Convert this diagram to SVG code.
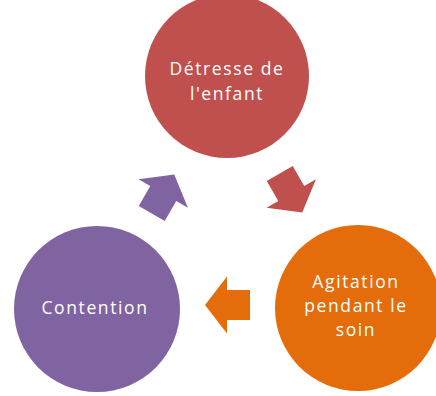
<svg xmlns="http://www.w3.org/2000/svg" width="436" height="396" viewBox="0 0 436 396">
  <defs>
    <style>
      .lbl { font-family: "Open Sans", "Noto Sans", "DejaVu Sans", sans-serif; font-size: 17.5px; fill: #ffffff; text-anchor: middle; letter-spacing: 1.6px; }
    </style>
    <!-- block arrow pointing right, centred on the origin -->
    <path id="blockArrow" d="M -22.5 -15 L 0.5 -15 L 0.5 -28.5 L 22.5 0 L 0.5 28.5 L 0.5 15 L -22.5 15 Z"/>
  </defs>
  <rect width="436" height="396" fill="#ffffff"/>

  <g id="connectors">
    <use href="#blockArrow" fill="#C0504D" transform="translate(291 193) rotate(60)"/>
    <use href="#blockArrow" fill="#E46C0A" transform="translate(227.5 305) rotate(180)"/>
    <use href="#blockArrow" fill="#8064A2" transform="translate(163 194) rotate(-60)"/>
  </g>

  <g id="node-detresse">
    <circle cx="227" cy="76" r="82" fill="#C0504D"/>
    <text class="lbl" x="227" y="75">Détresse de</text>
    <text class="lbl" x="227" y="99.5">l'enfant</text>
  </g>

  <g id="node-agitation">
    <circle cx="358" cy="308" r="83" fill="#E46C0A"/>
    <text class="lbl" x="356" y="287.5">Agitation</text>
    <text class="lbl" x="356" y="311.5">pendant le</text>
    <text class="lbl" x="356" y="335.5">soin</text>
  </g>

  <g id="node-contention">
    <circle cx="97" cy="309" r="83" fill="#8064A2"/>
    <text class="lbl" x="95" y="314">Contention</text>
  </g>
</svg>
